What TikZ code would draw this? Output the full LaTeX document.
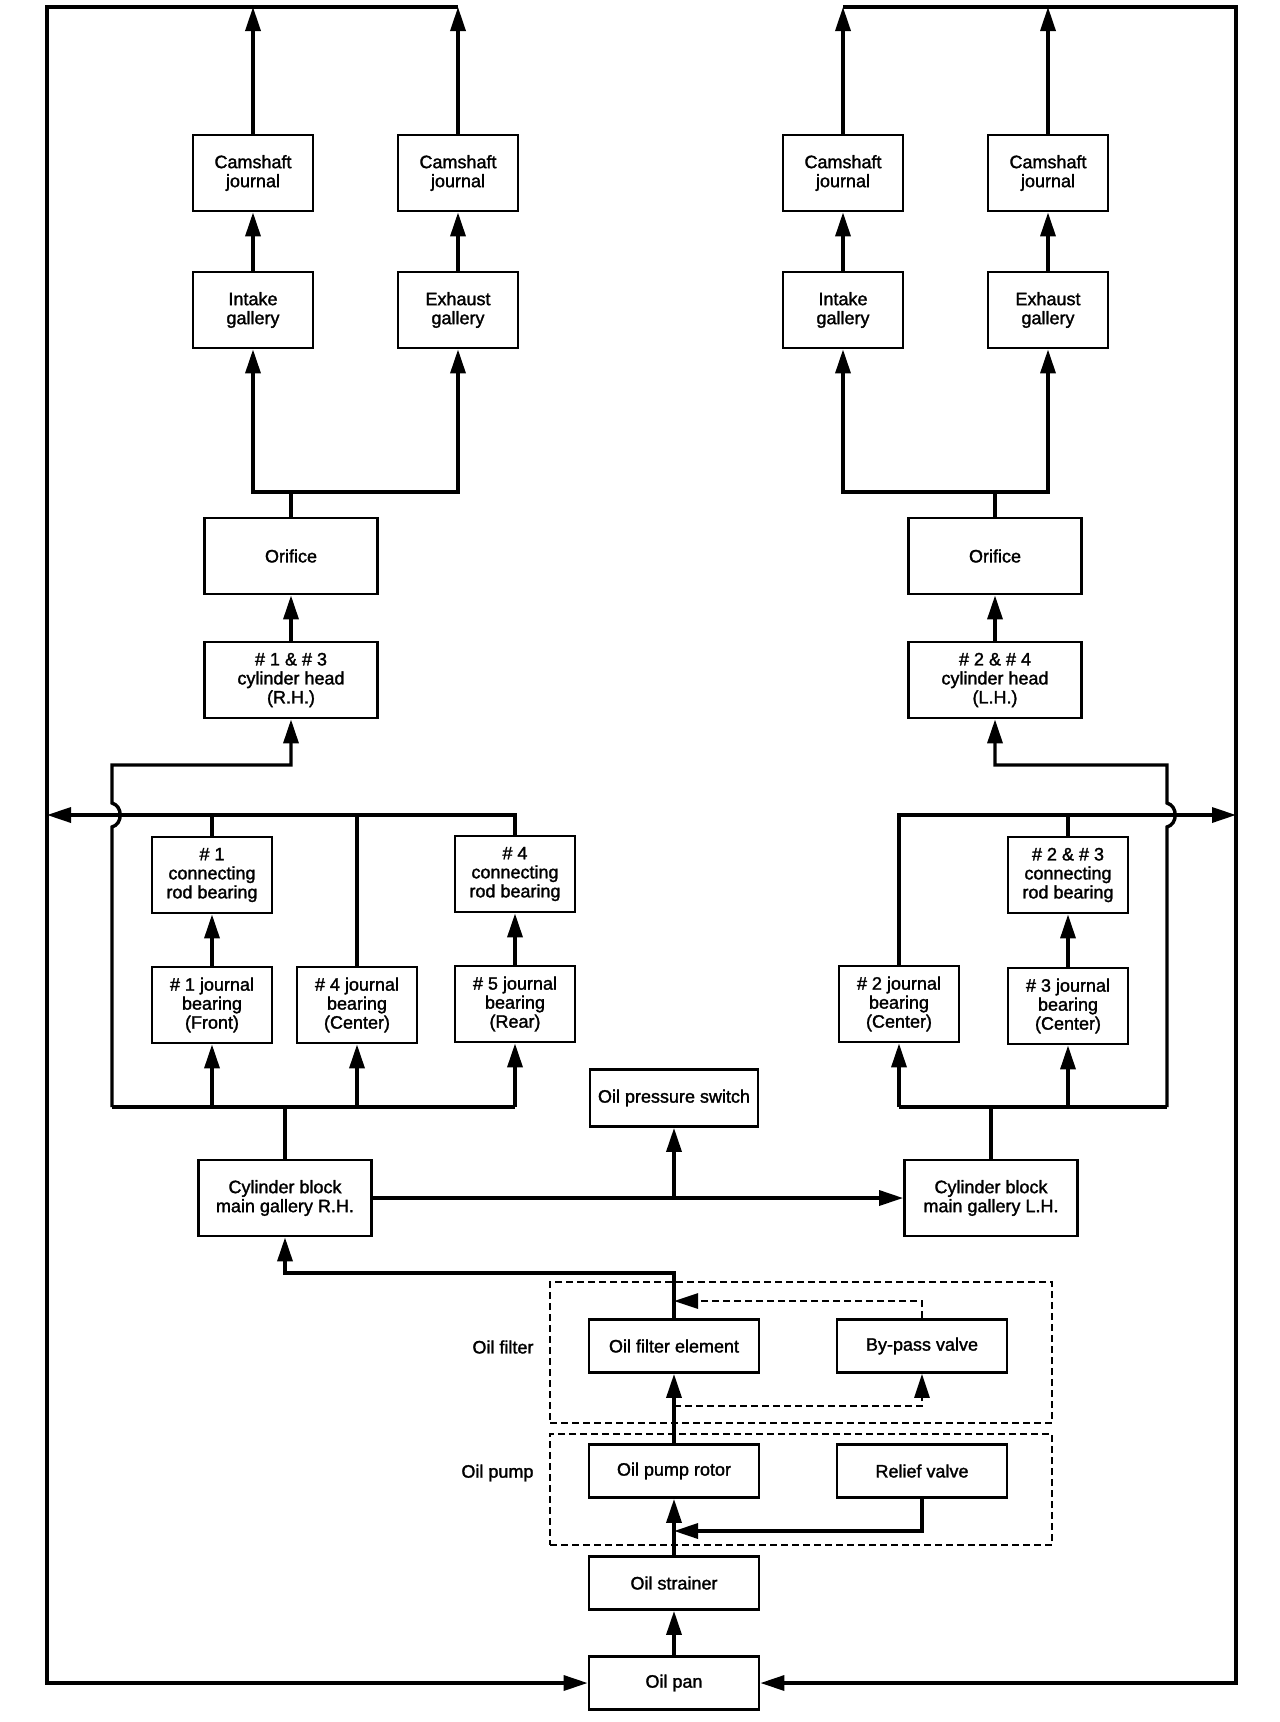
\documentclass[tikz,border=0pt]{standalone}
\usepackage{fontspec}
\setmainfont{Liberation Sans}[BoldFont=Liberation Sans, BoldFeatures={FakeBold=1.6}]
\usetikzlibrary{arrows.meta}

\begin{document}
\begin{tikzpicture}[x=1pt, y=-1pt,
        txt/.style={font=\fontsize{18}{19}\selectfont\bfseries},
        box/.style={txt, draw, line width=2.8pt, align=center, inner sep=0pt, minimum width=120pt, minimum height=76pt},
        wide/.style={box, minimum width=173pt},
        flat/.style={box, minimum width=170pt, minimum height=53pt},
        grp/.style={draw, line width=2.6pt, dash pattern=on 7pt off 4pt, minimum width=502pt},
        pipe/.style={line width=3.4pt},
        flow/.style={pipe, -{Triangle[length=24pt, width=15pt]}},
        bypass/.style={line width=2.8pt, dash pattern=on 7pt off 4pt, -{Triangle[length=24pt, width=15pt]}}]
    \useasboundingbox (0,0) rectangle (1280,1722);
    % outer return lines
    \coordinate (topL) at (47,7);
    \coordinate (botL) at (47,1683);
    \coordinate (topR) at (1236,7);
    \coordinate (botR) at (1236,1683);
    \coordinate (outL) at (47,815);
    \coordinate (outR) at (1236,815);
    \coordinate (railL) at (112,1107);
    \coordinate (railR) at (1167,1107);
    \coordinate (splitL) at (291,492);
    \coordinate (splitR) at (995,492);

    % R.H. bank
    \node[box] (camL1) at (253,173) {Camshaft\\journal};
    \node[box] (camL2) at (458,173) {Camshaft\\journal};
    \node[box] (inL) at (253,310) {Intake\\gallery};
    \node[box] (exL) at (458,310) {Exhaust\\gallery};
    \node[wide] (orfL) at (291,556) {Orifice};
    \node[wide] (headL) at (291,680) {\# 1 \& \# 3\\cylinder head\\(R.H.)};

    % L.H. bank
    \node[box] (camR1) at (843,173) {Camshaft\\journal};
    \node[box] (camR2) at (1048,173) {Camshaft\\journal};
    \node[box] (inR) at (843,310) {Intake\\gallery};
    \node[box] (exR) at (1048,310) {Exhaust\\gallery};
    \node[wide] (orfR) at (995,556) {Orifice};
    \node[wide] (headR) at (995,680) {\# 2 \& \# 4\\cylinder head\\(L.H.)};

    % bearings
    \node[box] (rod1) at (212,875) {\# 1\\connecting\\rod bearing};
    \node[box] (rod4) at (515,874) {\# 4\\connecting\\rod bearing};
    \node[box] (rod23) at (1068,875) {\# 2 \& \# 3\\connecting\\rod bearing};
    \node[box] (jb1) at (212,1005) {\# 1 journal\\bearing\\(Front)};
    \node[box] (jb4) at (357,1005) {\# 4 journal\\bearing\\(Center)};
    \node[box] (jb5) at (515,1004) {\# 5 journal\\bearing\\(Rear)};
    \node[box] (jb2) at (899,1004) {\# 2 journal\\bearing\\(Center)};
    \node[box] (jb3) at (1068,1006) {\# 3 journal\\bearing\\(Center)};

    % main galleries
    \node[wide] (galR) at (285,1198) {Cylinder block\\main gallery R.H.};
    \node[wide] (galL) at (991,1198) {Cylinder block\\main gallery L.H.};
    \node[flat, minimum width=168pt, minimum height=57pt] (psw) at (674,1098) {Oil pressure switch};

    % filter, pump, pan
    \node[grp, minimum height=141pt] (filter) at (801,1352.5) {};
    \node[grp, minimum height=111pt] (pump) at (801,1489.5) {};
    \node[txt, anchor=east] (lblfilter) at (537,1347) {Oil filter};
    \node[txt, anchor=east] (lblpump) at (537,1473) {Oil pump};
    \node[flat] (elem) at (674,1346) {Oil filter element};
    \node[flat] (bpv) at (922,1346) {By-pass valve};
    \node[flat] (rotor) at (674,1471) {Oil pump rotor};
    \node[flat] (relief) at (922,1471) {Relief valve};
    \node[flat] (strainer) at (674,1583) {Oil strainer};
    \node[flat] (pan) at (674,1683) {Oil pan};
    \coordinate (feedR) at (674,1273);
    \coordinate (bpin) at (674,1406);
    \coordinate (bpout) at (674,1301);
    \coordinate (rvout) at (674,1531);

    % pan -> pump -> filter -> galleries
    \draw[flow] (pan) -- (strainer);
    \draw[flow] (strainer) -- (rotor);
    \draw[flow] (relief) |- (rvout);
    \draw[flow] (rotor) -- (elem);
    \draw[bypass] (bpin) -| (bpv);
    \draw[bypass] (bpv) |- (bpout);
    \draw[flow] (elem) -- (feedR) -| (galR);
    \draw[flow] (galR) -- (galL);
    \draw[flow] (psw |- galR) -- (psw);

    % R.H. bearings and head
    \draw[pipe] (galR) -- (galR |- railL);
    \draw[pipe] (railL) -- (jb5 |- railL);
    \draw[flow] (jb1 |- railL) -- (jb1);
    \draw[flow] (jb4 |- railL) -- (jb4);
    \draw[flow] (jb5 |- railL) -- (jb5);
    \draw[flow] (jb1) -- (rod1);
    \draw[flow] (jb5) -- (rod4);
    \draw[flow] (rod4) |- (outL);
    \draw[pipe] (rod1) -- (rod1 |- outL);
    \draw[pipe] (jb4) -- (jb4 |- outL);
    \draw[flow] (railL) -- (112,827) .. controls (123,824) and (123,806) .. (112,803) -- (112,765) -| (headL);
    \draw[flow] (headL) -- (orfL);
    \draw[pipe] (orfL) -- (splitL);
    \draw[flow] (splitL) -| (inL);
    \draw[flow] (splitL) -| (exL);
    \draw[flow] (inL) -- (camL1);
    \draw[flow] (exL) -- (camL2);
    \draw[flow] (camL1) -- (camL1 |- topL);
    \draw[flow] (camL2) -- (camL2 |- topL);
    \draw[flow] (camL2 |- topL) -- (topL) -- (botL) -- (pan);

    % L.H. bearings and head
    \draw[pipe] (galL) -- (galL |- railR);
    \draw[pipe] (jb2 |- railR) -- (railR);
    \draw[flow] (jb2 |- railR) -- (jb2);
    \draw[flow] (jb3 |- railR) -- (jb3);
    \draw[flow] (jb3) -- (rod23);
    \draw[flow] (jb2) |- (outR);
    \draw[pipe] (rod23) -- (rod23 |- outR);
    \draw[flow] (railR) -- (1167,827) .. controls (1178,824) and (1178,806) .. (1167,803) -- (1167,765) -| (headR);
    \draw[flow] (headR) -- (orfR);
    \draw[pipe] (orfR) -- (splitR);
    \draw[flow] (splitR) -| (inR);
    \draw[flow] (splitR) -| (exR);
    \draw[flow] (inR) -- (camR1);
    \draw[flow] (exR) -- (camR2);
    \draw[flow] (camR1) -- (camR1 |- topR);
    \draw[flow] (camR2) -- (camR2 |- topR);
    \draw[flow] (camR1 |- topR) -- (topR) -- (botR) -- (pan);
\end{tikzpicture}
\end{document}
